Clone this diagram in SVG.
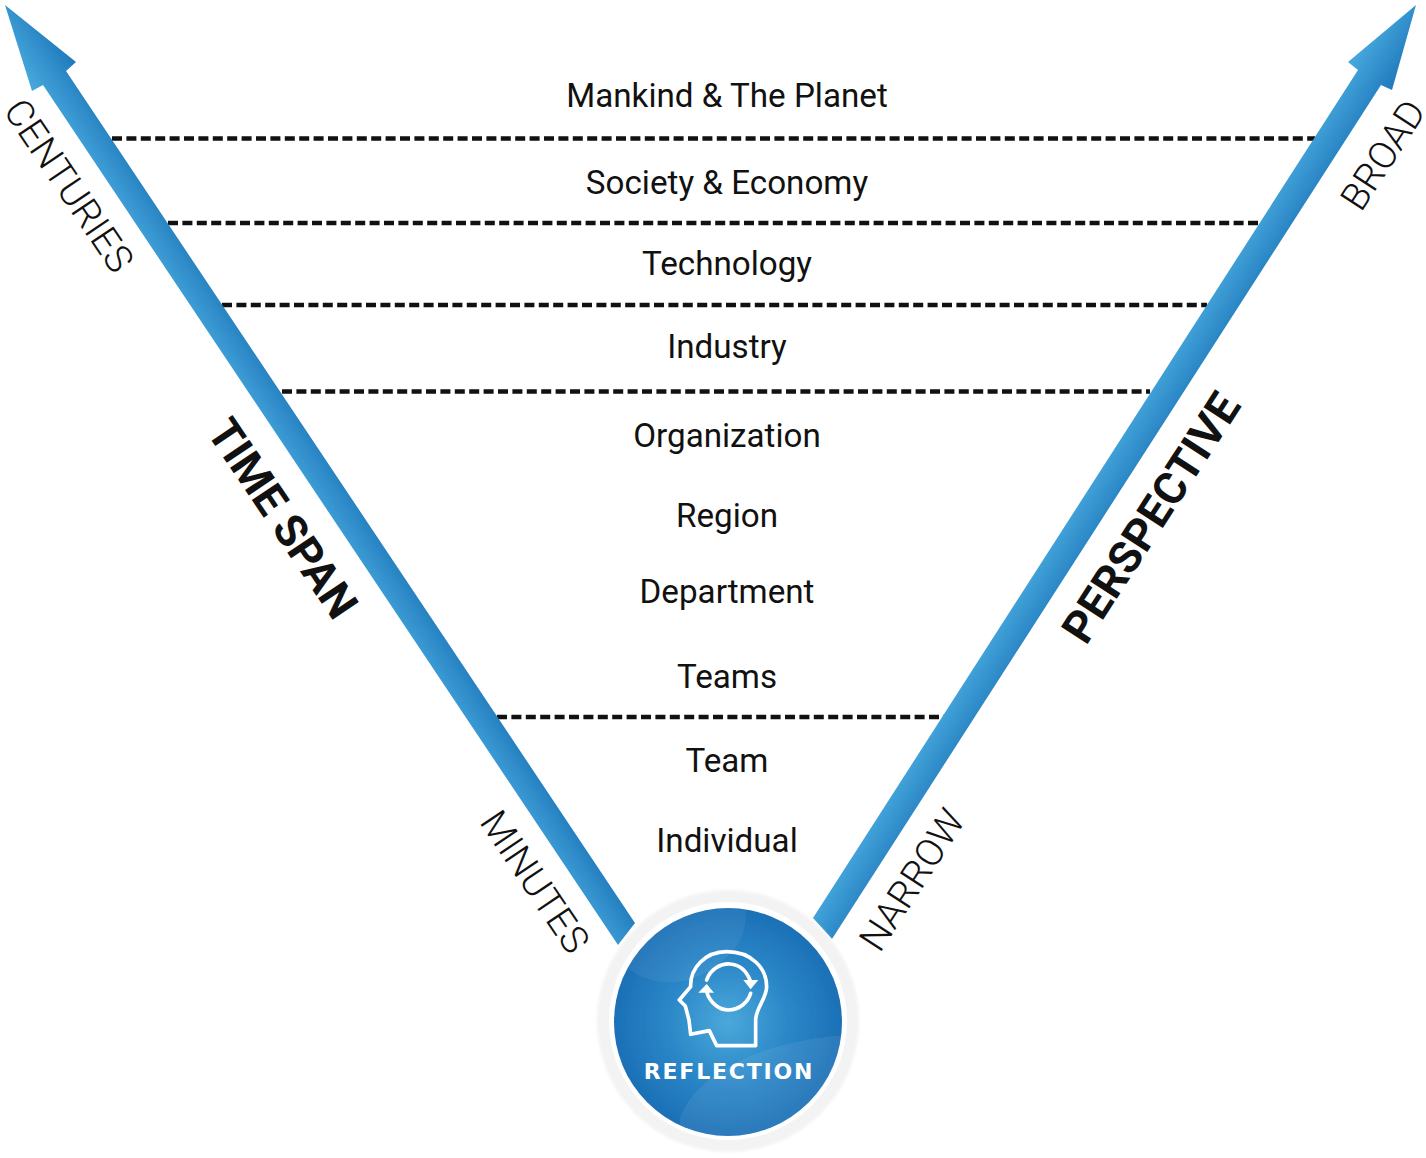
<svg xmlns="http://www.w3.org/2000/svg" width="1426" height="1158" viewBox="0 0 1426 1158">
<style>
.lvl{font-family:Roboto,"Liberation Sans",sans-serif;font-size:33.2px;fill:#111;text-anchor:middle}
.thin{font-family:Roboto,"Liberation Sans",sans-serif;font-weight:300;font-size:38px;fill:#111;text-anchor:middle}
.bold{font-family:Roboto,"Liberation Sans",sans-serif;font-weight:700;font-size:44.5px;fill:#111;text-anchor:middle}
.dash{stroke:#111;stroke-width:4.3;stroke-dasharray:10 4.4;fill:none}
.ic{fill:none;stroke:#fff;stroke-width:11;stroke-linejoin:round;stroke-linecap:round}
</style>
<defs>
<linearGradient id="ga" gradientUnits="userSpaceOnUse" x1="32" y1="91" x2="76" y2="62"><stop offset="0" stop-color="#48aade"/><stop offset="1" stop-color="#2079bc"/></linearGradient>
<linearGradient id="gb" gradientUnits="userSpaceOnUse" x1="1348" y1="62" x2="1392" y2="90"><stop offset="0" stop-color="#48aade"/><stop offset="1" stop-color="#2079bc"/></linearGradient>
<radialGradient id="disc" cx="728" cy="1022" r="114" gradientUnits="userSpaceOnUse"><stop offset="0" stop-color="#4ba8da"/><stop offset="0.55" stop-color="#2a86c7"/><stop offset="1" stop-color="#1c70b6"/></radialGradient>
<clipPath id="dc"><circle cx="728" cy="1022" r="114"/></clipPath>
<filter id="soft" x="-5%" y="-5%" width="110%" height="110%"><feGaussianBlur stdDeviation="0.7"/></filter>
<filter id="softer" x="-5%" y="-5%" width="110%" height="110%"><feGaussianBlur stdDeviation="1.5"/></filter>
</defs>
<g id="connectors">
<line class="dash" x1="112" y1="138.5" x2="1315" y2="138.5"/>
<line class="dash" x1="168" y1="223" x2="1262" y2="223"/>
<line class="dash" x1="222" y1="305" x2="1207" y2="305"/>
<line class="dash" x1="282" y1="391.500" x2="1150" y2="391.500"/>
<line class="dash" x1="497" y1="717" x2="944" y2="717"/>
<path id="arrow-left" filter="url(#soft)" fill="url(#ga)" d="M5 5L76 62L66 71L635 923L618 945L43 85L32 91Z"/>
<path id="arrow-right" filter="url(#soft)" fill="url(#gb)" d="M1416 5L1392 90L1381 85L832 939L813 918L1358 70L1348 62Z"/>
</g>
<g id="levels">
<text class="lvl" x="727" y="107">Mankind &amp; The Planet</text>
<text class="lvl" x="727" y="194">Society &amp; Economy</text>
<text class="lvl" x="727" y="275">Technology</text>
<text class="lvl" x="727" y="358">Industry</text>
<text class="lvl" x="727" y="447">Organization</text>
<text class="lvl" x="727" y="527">Region</text>
<text class="lvl" x="727" y="603">Department</text>
<text class="lvl" x="727" y="688">Teams</text>
<text class="lvl" x="727" y="772">Team</text>
<text class="lvl" x="727" y="852">Individual</text>
</g>
<g id="axis-labels">
<text class="thin" transform="translate(58 193) rotate(56)">CENTURIES</text>
<text class="thin" transform="translate(524 889) rotate(56)">MINUTES</text>
<text class="bold" transform="translate(270 527) rotate(56)">TIME SPAN</text>
<text class="thin" transform="translate(1394 162) rotate(-57)">BROAD</text>
<text class="thin" transform="translate(923 887) rotate(-57)">NARROW</text>
<text class="bold" transform="translate(1164 526) rotate(-57)">PERSPECTIVE</text>
</g>
<g id="reflection">
<circle cx="728" cy="1021" r="131" fill="#f3f3f3" filter="url(#softer)"/>
<circle cx="728" cy="1021" r="119" fill="#fff" filter="url(#soft)"/>
<circle cx="728" cy="1022" r="114" fill="url(#disc)" filter="url(#soft)"/>
<g clip-path="url(#dc)">
<path fill="#fff" opacity=".06" filter="url(#soft)" d="M620 960C640 985 680 990 710 970C745 948 748 925 745 900L620 900Z"/>
<path fill="#fff" opacity=".07" filter="url(#soft)" d="M680 1118C695 1075 760 1040 850 1035L850 1150L680 1150Z"/>
</g>
<g transform="translate(590 880) scale(.3333)">
<path class="ic" d="M497 497L380 497L358 452L302 463L297 420L286 378L268 360L302 320C300 265 345 215 410 215C485 215 530 265 530 320C530 355 497 385 497 420Z"/>
<path class="ic" d="M350 300C362 265 395 250 420 252C450 254 470 275 480 300"/>
<path class="ic" d="M350 335C360 370 390 390 415 390C450 390 475 365 482 340"/>
<path fill="#fff" d="M460 300L505 300L482 328Z"/>
<path fill="#fff" d="M325 338L372 338L350 312Z"/>
</g>
<text x="729" y="1079" font-family="'DejaVu Sans','Liberation Sans',sans-serif" font-weight="700" font-size="22" letter-spacing="1.8" fill="#fff" text-anchor="middle">REFLECTION</text>
</g>
</svg>
